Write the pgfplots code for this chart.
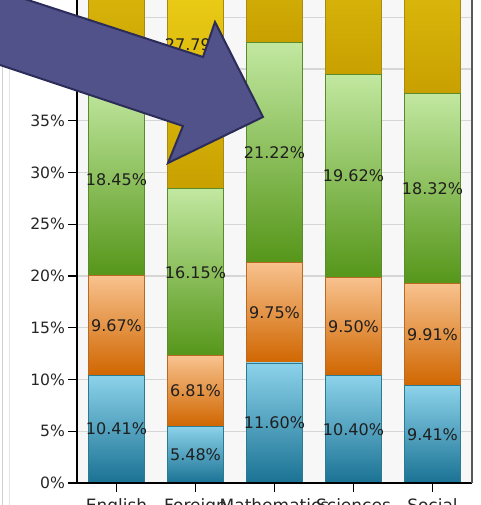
\documentclass[border=0pt]{standalone}
\usepackage{pgfplots}
\pgfplotsset{compat=1.18}
\usepackage{pgfplotstable}
\usepackage{fontspec}
\setmainfont{DejaVu Sans}
\definecolor{bluetop}{HTML}{8CD2EA}
\definecolor{bluebot}{HTML}{1A7294}
\definecolor{blueedge}{HTML}{2A7A90}
\definecolor{orangetop}{HTML}{F8C28E}
\definecolor{orangebot}{HTML}{D06600}
\definecolor{orangeedge}{HTML}{B86A20}
\definecolor{greentop}{HTML}{C2E8A0}
\definecolor{greenbot}{HTML}{56961A}
\definecolor{greenedge}{HTML}{5A8A2A}
\definecolor{yellowtop}{HTML}{FAE020}
\definecolor{yellowbot}{HTML}{C8A000}
\definecolor{yellowedge}{HTML}{A88A10}
\definecolor{gridc}{HTML}{D6D6D6}
\definecolor{arrowfill}{HTML}{52528A}
\definecolor{arrowedge}{HTML}{2C2C5A}

\pgfplotstableread{
x blue orange green yellow
0 10.41 9.67 18.45 27.00
1 5.48 6.81 16.15 27.79
2 11.60 9.75 21.22 25.00
3 10.40 9.50 19.62 26.00
4 9.41 9.91 18.32 27.00
}\data

\pgfplotsset{base/.style={
  width=197.5pt, height=241.5pt, scale only axis,
  xmin=-0.5, xmax=4.5, ymin=0, ymax=46.67,
  anchor=south west, at={(0,0)},
  xtick={0,1,2,3,4},
  ytick={0,5,10,15,20,25,30,35,40,45}},
  lab/.style={draw=none, mark=none,
    nodes near coords={\pgfmathprintnumber[fixed,fixed zerofill,precision=2,assume math mode=true]{\pgfplotspointmeta}\%},
    point meta=explicit}
}

\begin{document}
\begin{tikzpicture}
% background and grid
\begin{axis}[base,
  axis line style={draw=none}, tick style={draw=none},
  xticklabels={}, yticklabels={},
  axis background/.style={fill=white!97!black},
  ymajorgrids, grid style={gridc, line width=0.6pt},
]
\addplot[draw=none] coordinates {(0,0)};
\end{axis}

% bars, one axis per category so that each segment gets its own shading
\foreach \i in {0,...,4}{
\pgfmathtruncatemacro{\j}{\i+1}
\begin{axis}[base, hide axis, ybar stacked, bar width=28pt,
  every axis plot/.append style={skip coords between index={0}{\i}, skip coords between index={\j}{5}}]
\addplot[bottom color=bluebot, top color=bluetop, draw=blueedge, line width=0.4pt]
  table[x=x, y=blue] {\data};
\addplot[bottom color=orangebot, top color=orangetop, draw=orangeedge, line width=0.4pt]
  table[x=x, y=orange] {\data};
\addplot[bottom color=greenbot, top color=greentop, draw=greenedge, line width=0.4pt]
  table[x=x, y=green] {\data};
\addplot[bottom color=yellowbot, top color=yellowtop, draw=yellowedge, line width=0.4pt]
  table[x=x, y=yellow] {\data};
\end{axis}
}

% value labels
\begin{axis}[base, hide axis,
  nodes near coords align=center,
  every node near coord/.append style={font=\fontsize{8}{9.6}\selectfont, text=black!88, inner sep=0pt},
]
\addplot[lab] table[x=x, y expr=\thisrow{blue}/2, meta=blue] {\data};
\addplot[lab] table[x=x, y expr=\thisrow{blue}+\thisrow{orange}/2, meta=orange] {\data};
\addplot[lab] table[x=x, y expr=\thisrow{blue}+\thisrow{orange}+\thisrow{green}/2, meta=green] {\data};
\addplot[lab] table[x=x, y expr=\thisrow{blue}+\thisrow{orange}+\thisrow{green}+\thisrow{yellow}/2, meta=yellow] {\data};
\end{axis}

% axis lines, ticks and tick labels
\begin{axis}[base,
  axis lines*=left,
  axis line style={black, line width=0.8pt},
  tick align=outside, major tick length=4.5pt,
  tick style={black, line width=0.7pt},
  xticklabels={English,Foreign\\Language,Mathematics,Sciences,Social\\Studies},
  xticklabel style={align=center, font=\fontsize{8.5}{10}\selectfont, text=black!85},
  yticklabels={0\%,5\%,10\%,15\%,20\%,25\%,30\%,35\%,40\%,45\%},
  yticklabel style={font=\fontsize{7.8}{9.5}\selectfont, text=black!85, xshift=2pt},
  clip=false,
]
\addplot[draw=none] coordinates {(0,0)};
\draw[black!65, line width=0.8pt] (rel axis cs:1,0) -- (rel axis cs:1,1);
\end{axis}

\begin{scope}[shift={(-38.5pt,241.5pt)}, x=0.5pt, y=-0.5pt]
\draw[black!18, line width=0.5pt] (3,0) -- (3,505);
\draw[black!10, line width=0.5pt] (10,0) -- (10,505);
\draw[arrowedge, line width=1pt, fill=arrowfill, line join=miter]
  (-12,-13) -- (203,57) -- (215,22) -- (263,117) -- (168,163) -- (183,126) -- (-12,61) -- cycle;
\end{scope}

\pgfresetboundingbox
\path[use as bounding box] (-38.5pt,-11pt) rectangle (202pt,241.5pt);
\end{tikzpicture}
\end{document}
